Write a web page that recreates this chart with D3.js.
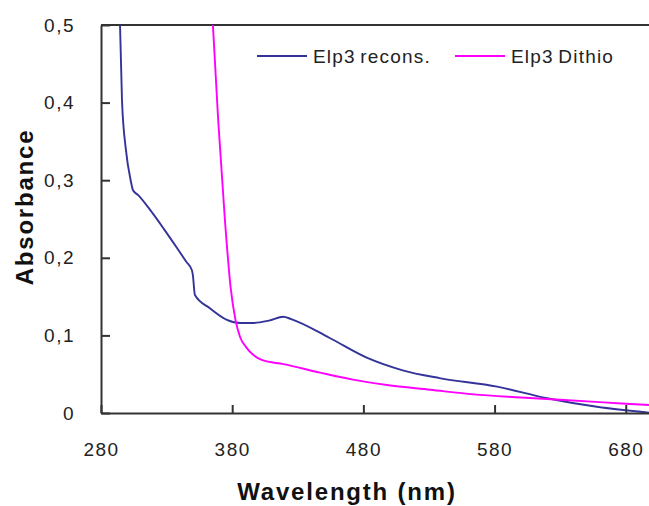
<html>
  <head>
    <meta charset="utf-8">
    <script src="https://d3js.org/d3.v7.min.js"></script>
    <style>
      body {
        margin: 0;
        background: white;
        font-family: "Liberation Sans", Arial, sans-serif;
      }
      .tick text {
        font-size: 19px;
        letter-spacing: 1.5px;
        fill: #222;
      }
      .axis-title {
        font-size: 24px;
        font-weight: bold;
        letter-spacing: 1.8px;
        fill: #111;
      }
      .legend text {
        font-size: 19px;
        letter-spacing: 1.2px;
        word-spacing: -2px;
        fill: #222;
      }
    </style>
  </head>
  <body>
    <div id="chart"></div>
  </body>

  <script>
    // wavelength (nm) / absorbance
    const reconsWl  = [294.5, 296, 299, 302.6, 304.4, 308.2, 317.3, 328, 338.6, 345, 349.3, 350, 351.6, 363, 376, 386, 396, 408, 419, 425, 454, 483, 510, 538, 582, 620, 658, 700];
    const reconsAbs = [0.5, 0.403, 0.339, 0.300, 0.287, 0.281, 0.262, 0.237, 0.211, 0.195, 0.184, 0.178, 0.152, 0.135, 0.120, 0.116, 0.116, 0.119, 0.124, 0.121, 0.097, 0.071, 0.055, 0.045, 0.034, 0.019, 0.008, 0.0];

    const dithioWl  = [365.3, 369.3, 374.4, 378.8, 382.5, 386, 391, 396, 403, 419, 447, 472, 498, 531, 564, 600, 630, 660, 700];
    const dithioAbs = [0.5, 0.378, 0.25, 0.162, 0.12, 0.098, 0.084, 0.075, 0.068, 0.063, 0.052, 0.043, 0.036, 0.030, 0.024, 0.020, 0.017, 0.014, 0.010];

    const xTicks = [280, 380, 480, 580, 680];
    const yTicks = [0, 0.1, 0.2, 0.3, 0.4, 0.5];

    const seriesNames  = ["Elp3 recons.", "Elp3 Dithio"];
    const seriesColors = ["#333399", "#ff00ff"];

    const W = 649, H = 506;
    const svg = d3.select("#chart").append("svg")
      .attr("width", W)
      .attr("height", H);

    const x = d3.scaleLinear().domain([280, 700]).range([101, 652]);
    const y = d3.scaleLinear().domain([0, 0.5]).range([413, 25]);

    svg.append("clipPath").attr("id", "plot")
      .append("rect")
        .attr("x", x(280)).attr("y", y(0.5))
        .attr("width", x(700) - x(280)).attr("height", y(0) - y(0.5));

    // top border
    svg.append("line")
      .attr("x1", x(280)).attr("x2", x(700))
      .attr("y1", y(0.5)).attr("y2", y(0.5))
      .attr("stroke", "#333").attr("stroke-width", 2);

    const series = [
      reconsWl.map((w, i) => [w, reconsAbs[i]]),
      dithioWl.map((w, i) => [w, dithioAbs[i]])
    ];

    const line = d3.line()
      .x(d => x(d[0]))
      .y(d => y(d[1]))
      .curve(d3.curveMonotoneX);

    svg.append("g").attr("clip-path", "url(#plot)")
      .selectAll("path")
      .data(series)
      .join("path")
        .attr("d", line)
        .attr("fill", "none")
        .attr("stroke", (d, i) => seriesColors[i])
        .attr("stroke-width", 1.9);

    // axes
    const xAxis = svg.append("g")
      .attr("transform", `translate(0,${y(0)})`)
      .call(d3.axisBottom(x).tickValues(xTicks).tickSizeInner(-8).tickSizeOuter(0).tickPadding(30));
    const yAxis = svg.append("g")
      .attr("transform", `translate(${x(280)},0)`)
      .call(d3.axisLeft(y).tickValues(yTicks).tickSizeInner(-9).tickSizeOuter(0).tickPadding(26)
        .tickFormat(d => d === 0 ? "0" : d3.format(".1f")(d).replace(".", ",")));

    [xAxis, yAxis].forEach(a => {
      a.select(".domain").attr("stroke", "#333").attr("stroke-width", 2);
      a.selectAll(".tick line").attr("stroke", "#333").attr("stroke-width", 2);
      a.selectAll(".tick text").attr("font-family", null).attr("font-size", null);
    });

    svg.append("text")
      .attr("class", "axis-title")
      .attr("x", 347).attr("y", 500)
      .attr("text-anchor", "middle")
      .text("Wavelength (nm)");

    svg.append("text")
      .attr("class", "axis-title")
      .attr("transform", "translate(33,207) rotate(-90)")
      .attr("text-anchor", "middle")
      .text("Absorbance");

    // legend
    const legendX = [257, 455];
    const legend = svg.append("g").attr("class", "legend")
      .selectAll("g")
      .data(seriesNames)
      .join("g")
        .attr("transform", (d, i) => `translate(${legendX[i]},56)`);
    legend.append("line")
      .attr("x1", 0).attr("x2", 50)
      .attr("stroke", (d, i) => seriesColors[i])
      .attr("stroke-width", 2);
    legend.append("text")
      .attr("x", 56).attr("y", 7)
      .text(d => d);
  </script>
</html>
